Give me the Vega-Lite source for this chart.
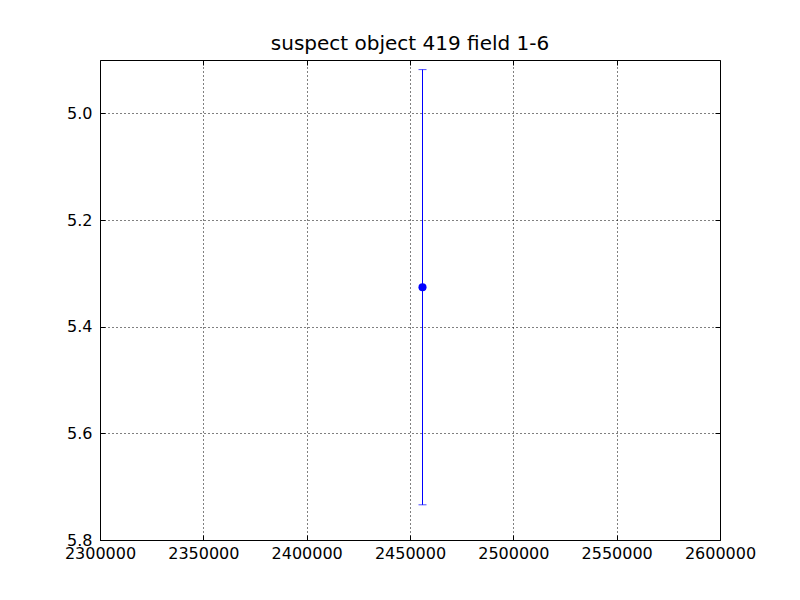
{
  "$schema": "https://vega.github.io/schema/vega-lite/v6.json",
  "width": 620,
  "height": 480,
  "autosize": {"type": "none"},
  "padding": {"left": 100, "top": 60, "right": 80, "bottom": 60},
  "background": "white",
  "title": {"text": "suspect object 419 field 1-6", "font": "DejaVu Sans", "fontSize": 20, "fontWeight": "normal", "color": "black", "offset": 6},
  "config": {
    "view": {"stroke": "black", "strokeWidth": 1},
    "axis": {
      "labelFont": "DejaVu Sans", "labelFontSize": 16, "labelColor": "black",
      "domain": false, "tickColor": "black", "tickSize": -5, "tickWidth": 1,
      "grid": true, "gridColor": "black", "gridDash": [1, 3], "gridOpacity": 1, "gridWidth": 1,
      "title": null
    }
  },
  "data": {"values": [{"jd": 2456050, "mag": 5.326, "lo": 4.918, "hi": 5.734}]},
  "layer": [
    {
      "mark": {"type": "rule", "color": "#0000ff", "strokeWidth": 1},
      "encoding": {
        "x": {"field": "jd", "type": "quantitative", "scale": {"domain": [2300000, 2600000], "nice": false, "zero": false}, "axis": {"values": [2300000, 2350000, 2400000, 2450000, 2500000, 2550000, 2600000], "format": "d", "labelPadding": 10, "labelFlush": false}},
        "y": {"field": "lo", "type": "quantitative", "scale": {"domain": [4.9, 5.8], "reverse": true, "nice": false, "zero": false}, "axis": {"values": [5.0, 5.2, 5.4, 5.6, 5.8], "format": ".1f", "labelPadding": 13}},
        "y2": {"field": "hi"}
      }
    },
    {
      "mark": {"type": "tick", "color": "#0000ff", "orient": "horizontal", "size": 8, "thickness": 1},
      "encoding": {
        "x": {"field": "jd", "type": "quantitative", "axis": null},
        "y": {"field": "lo", "type": "quantitative", "axis": null}
      }
    },
    {
      "mark": {"type": "tick", "color": "#0000ff", "orient": "horizontal", "size": 8, "thickness": 1},
      "encoding": {
        "x": {"field": "jd", "type": "quantitative", "axis": null},
        "y": {"field": "hi", "type": "quantitative", "axis": null}
      }
    },
    {
      "mark": {"type": "point", "shape": "circle", "filled": true, "color": "#0000ff", "opacity": 1, "size": 65},
      "encoding": {
        "x": {"field": "jd", "type": "quantitative", "axis": {"orient": "top", "labels": false, "grid": false, "values": [2300000, 2350000, 2400000, 2450000, 2500000, 2550000, 2600000]}},
        "y": {"field": "mag", "type": "quantitative", "axis": {"orient": "right", "labels": false, "grid": false, "values": [5.0, 5.2, 5.4, 5.6, 5.8]}}
      }
    }
  ],
  "resolve": {"axis": {"x": "independent", "y": "independent"}}
}
